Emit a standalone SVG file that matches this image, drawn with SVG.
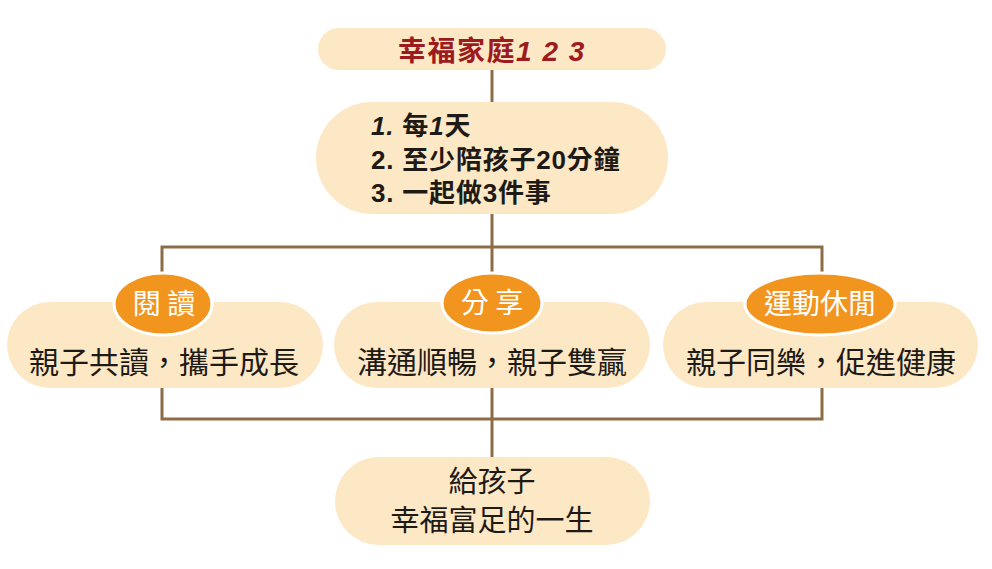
<svg xmlns="http://www.w3.org/2000/svg" width="992" height="569" viewBox="0 0 992 569">
<style>
.pill{fill:#FDE8C6}
.badge{fill:#F2951F;stroke:#FFFFFF;stroke-width:3}
.conn{fill:none;stroke:#8C6D45;stroke-width:3}
.t{font-family:"Noto Sans CJK TC","Liberation Sans",sans-serif;text-anchor:middle;fill:#1E1A16;font-size:30px}
.bt{font-family:"Noto Sans CJK TC","Liberation Sans",sans-serif;text-anchor:middle;fill:#FFFFFF;font-size:28px}
.num{font-family:"Liberation Sans","Noto Sans CJK TC",sans-serif;font-weight:bold;font-style:italic}
.list{font-family:"Liberation Sans","Noto Sans CJK TC",sans-serif;font-size:26px;font-weight:bold;fill:#1E1A16;letter-spacing:0.8px}
</style>
<rect width="992" height="569" fill="#FFFFFF"/>
<g id="connectors">
<path class="conn" d="M492 70V104"/>
<path class="conn" d="M492 212V247M162 272V247H822V272M492 247V274"/>
<path class="conn" d="M162 386V419H822V386M492 386V458"/>
</g>
<g id="title">
<rect class="pill" x="318" y="28" width="348" height="42" rx="21"/>
<text x="492" y="61" class="t" style="font-size:28px;font-weight:bold;fill:#9B1B1E;letter-spacing:1.5px">幸福家庭<tspan class="num">1 2 3</tspan></text>
</g>
<g id="rule">
<rect class="pill" x="316" y="102" width="352" height="112" rx="56"/>
<text x="371" y="135" class="list"><tspan font-style="italic">1.</tspan> 每<tspan font-style="italic">1</tspan>天</text>
<text x="371" y="169" class="list">2. 至少陪孩子20分鐘</text>
<text x="371" y="202" class="list">3. 一起做3件事</text>
</g>
<g id="reading">
<rect class="pill" x="7" y="302" width="316" height="86" rx="43"/>
<ellipse class="badge" cx="163" cy="304" rx="49" ry="31"/>
<text x="164" y="314" class="bt">閱 讀</text>
<text x="164" y="373" class="t">親子共讀，攜手成長</text>
</g>
<g id="sharing">
<rect class="pill" x="334" y="302" width="316" height="86" rx="43"/>
<ellipse class="badge" cx="492" cy="303" rx="50" ry="30"/>
<text x="492" y="313" class="bt">分 享</text>
<text x="492" y="373" class="t">溝通順暢，親子雙贏</text>
</g>
<g id="sports">
<rect class="pill" x="663" y="302" width="315" height="86" rx="43"/>
<ellipse class="badge" cx="820" cy="304" rx="75" ry="31"/>
<text x="820" y="314" class="bt">運動休閒</text>
<text x="821" y="373" class="t">親子同樂，促進健康</text>
</g>
<g id="result">
<rect class="pill" x="335" y="457" width="315" height="88" rx="44"/>
<text x="492" y="492" class="t" style="font-size:29px">給孩子</text>
<text x="492" y="531" class="t" style="font-size:29px">幸福富足的一生</text>
</g>
</svg>
